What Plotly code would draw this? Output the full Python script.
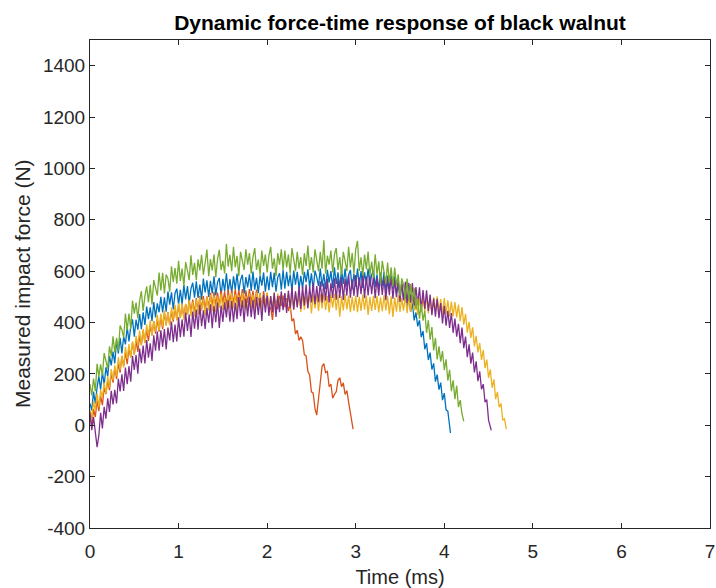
import plotly.graph_objects as go

DT = 0.02
series_names = ["Nut 1", "Nut 2", "Nut 3", "Nut 4", "Nut 5"]
end_times = [4.07, 2.97, 4.70, 4.53, 4.22]

blue = [85, 58, 131, 84, 147, 190, 139, 208, 157, 226,
        190, 269, 233, 287, 241, 330, 280, 340, 280, 345,
        315, 383, 326, 384, 412, 345, 411, 372, 433, 374,
        440, 391, 462, 413, 459, 405, 480, 420, 475, 440,
        500, 439, 498, 442, 521, 470, 518, 451, 514, 532,
        470, 527, 470, 547, 490, 542, 475, 532, 555, 497,
        560, 496, 548, 489, 571, 517, 564, 500, 562, 513,
        580, 506, 557, 573, 504, 570, 521, 592, 518, 569,
        515, 580, 530, 591, 521, 566, 586, 512, 577, 537,
        588, 523, 598, 528, 574, 514, 584, 544, 595, 520,
        580, 526, 597, 538, 594, 520, 576, 592, 528, 604,
        532, 597, 542, 587, 522, 602, 547, 597, 532, 582,
        532, 597, 557, 607, 537, 592, 527, 602, 577, 542,
        610, 540, 590, 530, 605, 555, 600, 535, 615, 550,
        595, 535, 605, 550, 610, 540, 585, 605, 530, 590,
        540, 610, 545, 600, 535, 595, 550, 610, 540, 585,
        605, 538, 587, 530, 594, 542, 596, 519, 583, 531,
        585, 530, 580, 510, 555, 505, 549, 488, 522, 461,
        500, 441, 477, 408, 439, 385, 409, 343, 367, 296,
        320, 254, 283, 217, 241, 170, 197, 139, 166, 98,
        125, 60, 55, -10, -30]

orange = [30, -1, 63, 32, 96, 55, 114, 78, 147, 121,
          175, 137, 204, 166, 223, 180, 240, 205, 270, 230,
          285, 238, 301, 264, 322, 275, 328, 286, 349, 312,
          370, 321, 372, 328, 389, 350, 406, 357, 413, 364,
          425, 374, 438, 392, 441, 390, 444, 403, 462, 411,
          470, 418, 471, 419, 472, 430, 488, 441, 489, 437,
          495, 442, 504, 451, 503, 450, 502, 459, 516, 463,
          520, 466, 517, 463, 524, 475, 521, 462, 528, 474,
          525, 470, 530, 475, 525, 480, 530, 470, 525, 475,
          530, 474, 523, 467, 528, 472, 516, 460, 522, 466,
          515, 450, 460, 410, 475, 485, 452, 504, 465, 505,
          460, 495, 445, 470, 405, 415, 355, 370, 330, 345,
          330, 275, 270, 210, 195, 130, 125, 65, 40, 100,
          160, 230, 240, 205, 210, 150, 160, 105, 120, 130,
          175, 185, 150, 165, 120, 135, 90, 40, 10, -15]

yellow = [60, 27, 94, 56, 123, 70, 137, 109, 166, 123,
          190, 147, 219, 176, 233, 190, 265, 215, 270, 225,
          305, 258, 316, 264, 327, 275, 348, 311, 369, 312,
          375, 321, 392, 348, 409, 350, 405, 365, 430, 370,
          435, 384, 448, 387, 441, 390, 458, 411, 469, 407,
          475, 417, 474, 411, 473, 430, 487, 424, 481, 423,
          490, 432, 498, 445, 491, 428, 499, 446, 507, 444,
          505, 441, 501, 457, 512, 448, 498, 439, 509, 455,
          515, 455, 510, 441, 506, 461, 516, 451, 501, 447,
          513, 453, 508, 438, 518, 463, 513, 448, 508, 458,
          518, 448, 503, 458, 518, 443, 513, 463, 513, 453,
          513, 457, 517, 447, 507, 452, 516, 461, 511, 441,
          511, 450, 505, 460, 515, 435, 510, 455, 510, 445,
          510, 455, 514, 449, 504, 439, 508, 458, 513, 448,
          508, 423, 502, 447, 511, 451, 505, 440, 500, 445,
          505, 440, 500, 445, 510, 450, 505, 430, 500, 445,
          504, 449, 504, 439, 498, 443, 507, 447, 502, 432,
          502, 422, 497, 442, 507, 441, 496, 446, 506, 436,
          501, 441, 506, 446, 500, 430, 495, 440, 500, 445,
          505, 435, 494, 439, 498, 443, 502, 436, 491, 431,
          495, 433, 486, 424, 482, 425, 480, 420, 470, 405,
          460, 392, 434, 361, 403, 340, 381, 307, 348, 284,
          320, 254, 293, 222, 256, 185, 218, 146, 179, 102,
          130, 70, 85, 20, 25, -15]

purple = [50, -19, 32, -30, -85, -40, 49, -12, 72, 26,
          105, 52, 134, 81, 138, 85, 181, 132, 198, 134,
          225, 160, 230, 170, 270, 215, 273, 201, 299, 242,
          310, 241, 332, 263, 319, 250, 350, 290, 365, 290,
          370, 305, 375, 295, 380, 330, 404, 323, 392, 326,
          420, 343, 412, 345, 439, 367, 431, 344, 443, 376,
          450, 372, 469, 386, 448, 375, 457, 399, 471, 378,
          465, 401, 478, 379, 466, 402, 479, 420, 487, 403,
          485, 401, 477, 413, 499, 425, 486, 402, 493, 424,
          500, 421, 487, 413, 499, 430, 496, 406, 507, 439,
          505, 426, 503, 439, 516, 422, 504, 440, 522, 448,
          515, 437, 524, 456, 538, 450, 522, 459, 541, 453,
          540, 467, 548, 455, 541, 478, 554, 471, 542, 479,
          560, 477, 553, 485, 571, 478, 554, 496, 572, 489,
          570, 496, 577, 488, 569, 505, 586, 497, 568, 504,
          585, 500, 575, 510, 590, 495, 580, 505, 585, 510,
          580, 495, 574, 504, 583, 507, 577, 487, 572, 506,
          580, 493, 566, 499, 567, 480, 558, 486, 559, 477,
          555, 477, 554, 466, 538, 470, 537, 449, 526, 453,
          525, 445, 509, 429, 493, 423, 492, 417, 476, 396,
          465, 388, 446, 379, 437, 360, 415, 345, 395, 320,
          380, 300, 345, 265, 315, 240, 283, 206, 249, 172,
          210, 140, 160, 90, 100, 20, -20]

green = [160, 116, 182, 133, 239, 190, 237, 194, 281, 253,
         220, 307, 269, 346, 283, 340, 289, 388, 372, 341,
         435, 370, 435, 375, 485, 435, 478, 416, 484, 522,
         445, 503, 541, 479, 547, 470, 565, 535, 505, 595,
         525, 594, 513, 587, 571, 520, 619, 558, 612, 551,
         640, 562, 610, 542, 635, 602, 565, 662, 585, 632,
         565, 646, 603, 664, 586, 632, 684, 580, 647, 603,
         665, 576, 647, 683, 604, 640, 591, 707, 618, 664,
         600, 695, 615, 660, 580, 675, 640, 605, 685, 625,
         670, 590, 655, 690, 605, 645, 585, 680, 620, 665,
         595, 660, 695, 610, 650, 580, 670, 625, 685, 605,
         680, 615, 665, 590, 690, 640, 600, 675, 610, 655,
         585, 670, 620, 700, 605, 655, 595, 685, 645, 600,
         675, 610, 720, 590, 660, 625, 680, 595, 665, 690,
         605, 655, 585, 675, 640, 600, 695, 615, 670, 590,
         685, 718, 601, 654, 582, 665, 608, 676, 584, 637,
         575, 666, 587, 638, 549, 640, 596, 552, 633, 554,
         615, 540, 614, 544, 588, 503, 572, 547, 491, 571,
         485, 550, 480, 535, 450, 495, 414, 473, 407, 446,
         360, 409, 333, 382, 291, 340, 256, 307, 248, 289,
         215, 257, 174, 216, 133, 175, 102, 154, 71, 98,
         45, 15]

colors = ["#0072BD", "#D95319", "#EDB120", "#7E2F8E", "#77AC30"]
all_values = [blue, orange, yellow, purple, green]

x_tick_vals = [0, 1, 2, 3, 4, 5, 6, 7]
x_tick_text = ["0", "1", "2", "3", "4", "5", "6", "7"]
y_tick_vals = [-400, -200, 0, 200, 400, 600, 800, 1000, 1200, 1400]
y_tick_text = ["-400", "-200", "0", "200", "400", "600", "800", "1000", "1200", "1400"]

FONT = "Liberation Sans, Arial, Helvetica, sans-serif"

fig = go.Figure()
for name, vals, t_end, col in zip(series_names, all_values, end_times, colors):
    t = [round(i * DT, 4) for i in range(len(vals) - 1)] + [t_end]
    fig.add_trace(go.Scatter(x=t, y=vals, mode="lines", name=name,
                             line=dict(color=col, width=1.3), showlegend=False))

axis_common = dict(showline=True, linecolor="#262626", linewidth=1, mirror="ticks",
                   ticks="inside", ticklen=5, tickcolor="#262626", tickwidth=1,
                   showgrid=False, zeroline=False, automargin=False,
                   tickfont=dict(family=FONT, size=19, color="#262626"))

fig.update_layout(
    width=716, height=588,
    margin=dict(l=90, r=6, t=40, b=60),
    paper_bgcolor="white", plot_bgcolor="white",
    title=dict(text="<b>Dynamic force-time response of black walnut</b>",
               font=dict(family=FONT, size=21, color="black"),
               x=0.5, xref="paper",
               y=1 - 23 / 588, yref="container", yanchor="middle"),
    xaxis=dict(range=[0, 7], tickvals=x_tick_vals, ticktext=x_tick_text, ticklabelstandoff=6,
               title=dict(text="Time (ms)", standoff=9,
                          font=dict(family=FONT, size=20, color="#262626")),
               **axis_common),
    yaxis=dict(range=[-400, 1500], tickvals=y_tick_vals, ticktext=y_tick_text,
               **axis_common),
    annotations=[dict(text="Measured impact force (N)", textangle=-90, showarrow=False,
                      xref="paper", yref="paper", x=(22 - 90) / 620, y=0.5,
                      xanchor="center", yanchor="middle",
                      font=dict(family=FONT, size=21, color="#262626"))],
)

fig.write_html("out.html")
